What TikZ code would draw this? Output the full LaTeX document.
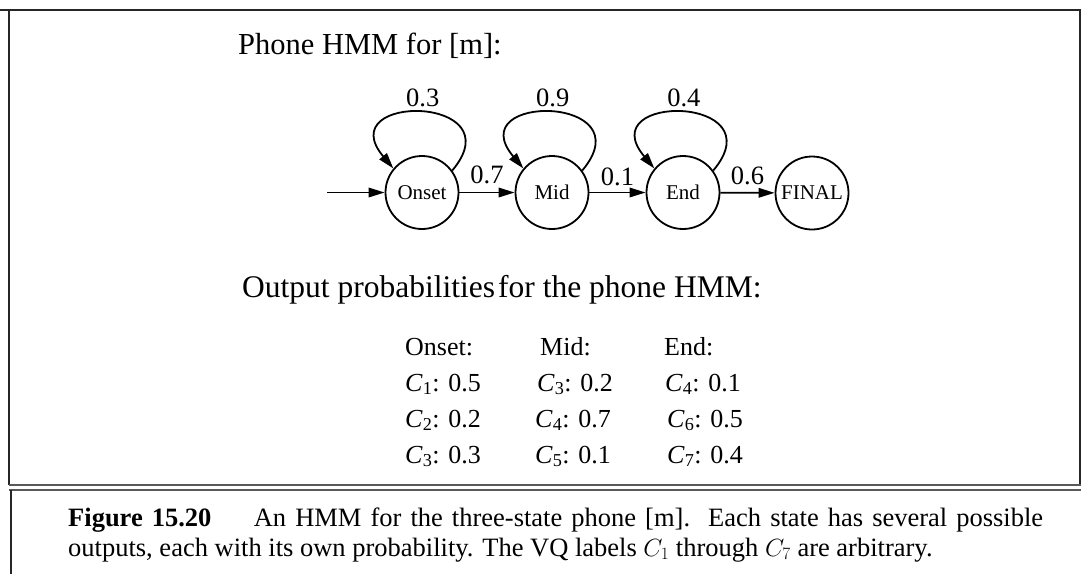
\documentclass[tikz,border=0pt]{standalone}
\usepackage{fontspec}
\setmainfont{Liberation Serif}
\usetikzlibrary{arrows.meta}
\newcommand\Cs[1]{\textit{C}\textsubscript{#1}}
\begin{document}
\begin{tikzpicture}[x=1pt,y=1pt,
  state/.style={circle,draw,line width=1.8pt,minimum size=73pt,inner sep=0pt,font=\fontsize{21}{24}\selectfont},
  arr/.style={line width=1.8pt,-{Triangle[length=16pt,width=9.5pt]}},
  prob/.style={inner sep=0pt,font=\fontsize{26.5}{30}\selectfont},
  tab/.style={anchor=base west,inner sep=0pt,font=\fontsize{26}{30}\selectfont},
  title/.style={anchor=base west,inner sep=0pt},
  frame/.style={line width=2pt,black!85},
  dbl/.style={line width=2.2pt,black!65}]
\useasboundingbox (0,0) rectangle (1081,-574);
% frame
\draw[frame] (0,-10) -- (1081,-10);
\draw[frame] (9,-10) -- (9,-485);
\draw[frame] (1079.5,-10) -- (1079.5,-485);
\draw[dbl] (9,-485) -- (1081,-485);
\draw[dbl] (9,-490) -- (1081,-490);
\draw[frame] (11,-490) -- (11,-574);
% titles
\node[title,font=\fontsize{30.5}{36}\selectfont] (t1) at (238,-54) {Phone HMM for [m]:};
\node[title,font=\fontsize{31.5}{36}\selectfont] (t2) at (242,-297) {Output probabilities\hspace{0.1em}for the phone HMM:};
% states
\node[state] (on) at (422,-192.5) {Onset};
\node[state] (mi) at (552,-192.5) {Mid};
\node[state] (en) at (683,-192.5) {End};
\node[state] (fi) at (812,-193) {FINAL};
\coordinate (start) at (327,-192.5);
\draw[arr] (start) -- (on);
\draw[arr] (on) -- node[prob,above=8pt]{0.7} (mi);
\draw[arr] (mi) -- node[prob,above=6pt]{0.1} (en);
\draw[arr] (en) -- node[prob,above=7pt]{0.6} (fi);
\draw[arr] (on.36) .. controls +(50:99) and +(130:99) .. (on.140) node[prob,pos=0.5,above=5pt]{0.3};
\draw[arr] (mi.36) .. controls +(50:99) and +(130:99) .. (mi.140) node[prob,pos=0.5,above=5pt]{0.9};
\draw[arr] (en.36) .. controls +(50:99) and +(130:99) .. (en.140) node[prob,pos=0.5,above=5pt]{0.4};
% table
\node[tab] (h1) at (405,-355) {Onset:};
\node[tab] (h2) at (540,-355) {Mid:};
\node[tab] (h3) at (664,-355) {End:};
\node[tab] (a1) at (405,-391) {\Cs{1}: 0.5};
\node[tab] (a2) at (405,-427) {\Cs{2}: 0.2};
\node[tab] (a3) at (405,-463) {\Cs{3}: 0.3};
\node[tab] (b1) at (537,-391) {\Cs{3}: 0.2};
\node[tab] (b2) at (535,-427) {\Cs{4}: 0.7};
\node[tab] (b3) at (535,-463) {\Cs{5}: 0.1};
\node[tab] (c1) at (665,-391) {\Cs{4}: 0.1};
\node[tab] (c2) at (667,-427) {\Cs{6}: 0.5};
\node[tab] (c3) at (667,-463) {\Cs{7}: 0.4};
% caption
\node[title,font=\fontsize{26.5}{30}\selectfont] (cap1) at (68,-526) {\makebox[975pt][s]{\textbf{Figure 15.20}\hspace{1.6em}An HMM for the three-state phone [m].\ \ Each state has several possible}};
\node[title,font=\fontsize{26.5}{30}\selectfont] (cap2) at (68,-556) {outputs, each with its own probability. The VQ labels $C_1$ through $C_7$ are arbitrary.};
\end{tikzpicture}
\end{document}
